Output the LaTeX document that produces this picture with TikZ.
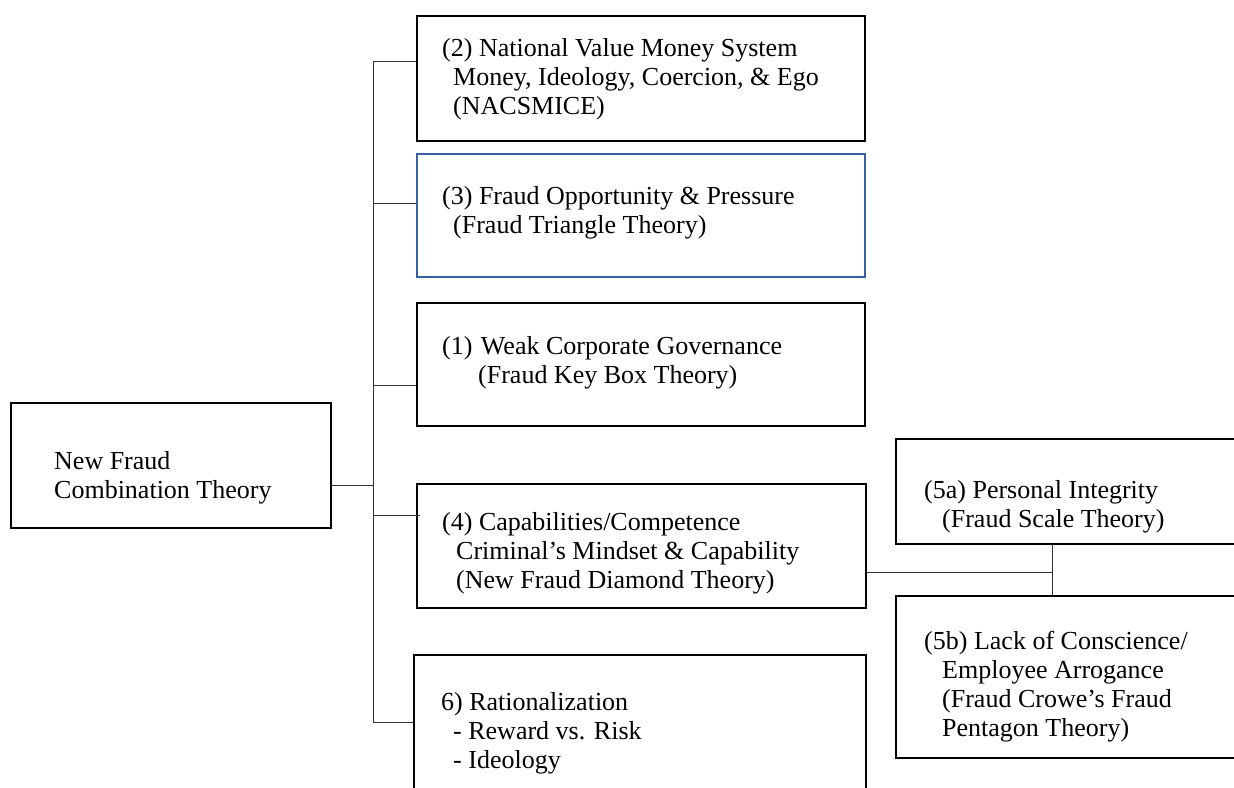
\documentclass[tikz,border=0pt]{standalone}
\usepackage{fontspec}
\setmainfont{Liberation Serif}
\definecolor{boxblue}{HTML}{3A5FA0}
\definecolor{linegray}{HTML}{333333}
\tikzset{
  box/.style={draw=black, line width=2pt, rectangle, inner sep=0pt, anchor=north west},
  bluebox/.style={draw=boxblue, line width=1.6pt, rectangle, inner sep=0pt, anchor=north west},
  txt/.style={font=\fontsize{26}{29}\selectfont, align=left, inner sep=0pt, anchor=west},
  conn/.style={draw=linegray, line width=1pt}
}
\begin{document}
\begin{tikzpicture}[x=1pt,y=-1pt]
\clip (0,0) rectangle (1234,787);
\fill[white] (0,0) rectangle (1234,787);
% boxes
\node[box, minimum width=320pt, minimum height=125pt] (root) at (10,402) {};
\node[box, minimum width=448pt, minimum height=125pt] (b2) at (416,15) {};
\node[bluebox, minimum width=448pt, minimum height=123pt] (b3) at (416,153) {};
\node[box, minimum width=448pt, minimum height=123pt] (b1) at (416,302) {};
\node[box, minimum width=449pt, minimum height=124pt] (b4) at (416,483) {};
\node[box, minimum width=452pt, minimum height=164pt] (b6) at (413,654) {};
\node[box, minimum width=360pt, minimum height=105pt] (b5a) at (895,438) {};
\node[box, minimum width=360pt, minimum height=162pt] (b5b) at (895,595) {};
% texts
\node[txt] (troot) at (54,478) {New Fraud\\Combination Theory};
\node[txt] (t2) at (442,79) {(2) National Value Money System\\\hspace*{11pt}Money, Ideology, Coercion, \& Ego\\\hspace*{11pt}(NACSMICE)};
\node[txt] (t3) at (442,213) {(3) Fraud Opportunity \& Pressure\\\hspace*{11pt}(Fraud Triangle Theory)};
\node[txt] (t1) at (442,363) {(1)\hspace*{2pt} Weak Corporate Governance\\\hspace*{36pt}(Fraud Key Box Theory)};
\node[txt] (t4) at (442,553.5) {(4) Capabilities/Competence\\\hspace*{14pt}Criminal’s Mindset \& Capability\\\hspace*{14pt}(New Fraud Diamond Theory)};
\node[txt] (t6) at (441,733.5) {6) Rationalization\\\hspace*{12pt}- Reward vs. Risk\\\hspace*{12pt}- Ideology};
\node[txt] (t5a) at (924,507) {(5a) Personal Integrity\\\hspace*{18pt}(Fraud Scale Theory)};
\node[txt] (t5b) at (924,686.5) {(5b) Lack of Conscience/\\\hspace*{18pt}Employee Arrogance\\\hspace*{18pt}(Fraud Crowe’s Fraud\\\hspace*{18pt}Pentagon Theory)};
% connectors
\coordinate (trunkTop) at (373,61);
\coordinate (trunkBot) at (373,722);
\coordinate (j4) at (1052,572);
\draw[conn] (trunkTop) -- (trunkBot);
\draw[conn] (root.east |- 0,485) -- (trunkTop |- 0,485);
\draw[conn] (trunkTop) -- (b2.west |- trunkTop);
\draw[conn] (trunkTop |- 0,203) -- (b3.west |- 0,203);
\draw[conn] (trunkTop |- 0,385) -- (b1.west |- 0,385);
\draw[conn] (trunkTop |- 0,515) -- ([xshift=4pt]b4.west |- 0,515);
\draw[conn] (trunkBot) -- (b6.west |- trunkBot);
\draw[conn] (b4.east |- j4) -- (j4);
\draw[conn] (b5a.south -| j4) -- (b5b.north -| j4);
\end{tikzpicture}
\end{document}
